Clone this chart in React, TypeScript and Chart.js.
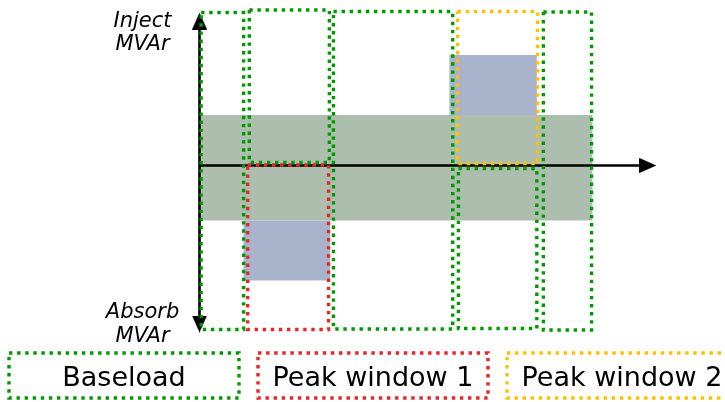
import React, { useEffect, useRef } from "react";
import { Chart, registerables } from "chart.js";

Chart.register(...registerables);

// ---- data (hours of day on x, MVAr on y) ----
// each window: [startHour, endHour, topMVAr, bottomMVAr]
const baseloadWindows: number[][] = [
  [0.1, 2.7, 15.3, -16.4],
  [3.05, 7.95, 15.55, 0.3],
  [8.2, 15.5, 15.4, -16.35],
  [15.85, 20.65, -0.3, -16.3],
  [21.05, 24.0, 15.35, -16.45],
];
const peakWindow1: number[][] = [[2.95, 7.9, 0.05, -16.4]];
const peakWindow2: number[][] = [[15.8, 20.7, 15.4, 0.2]];
const baseloadBand: number[] = [0, 24.05, 5.05, -5.5];
const peakBlocks: number[][] = [
  [2.7, 8.0, -5.5, -11.5],
  [15.3, 20.65, 11.05, 5.05],
];
const hourAxisEnd = 27.45;
const injectEnd = 14.45;
const absorbEnd = -15.85;
const legendLabels = ["Baseload", "Peak window 1", "Peak window 2"];
const injectLabel = ["Inject", "MVAr"];
const absorbLabel = ["Absorb", "MVAr"];

const GREEN = "#009A00";
const RED = "#E8262B";
const YELLOW = "#FFC000";
const BAND = "#ADBEAF";
const BLUE = "#A9B4CC";
const legendColors = [GREEN, RED, YELLOW];
const DASH = [3.4, 4.7];

const rect = (r: number[]) => [
  { x: r[0], y: r[2] },
  { x: r[1], y: r[2] },
  { x: r[1], y: r[3] },
  { x: r[0], y: r[3] },
  { x: r[0], y: r[2] },
];

function makeArrow(): HTMLCanvasElement {
  const c = document.createElement("canvas");
  c.width = 15;
  c.height = 17;
  const g = c.getContext("2d")!;
  g.fillStyle = "#000";
  g.beginPath();
  g.moveTo(7.5, 0);
  g.lineTo(15, 17);
  g.lineTo(0, 17);
  g.closePath();
  g.fill();
  return c;
}

const labelsPlugin = {
  id: "diagramLabels",
  afterDraw(chart: any) {
    const ctx = chart.ctx as CanvasRenderingContext2D;
    const xs = chart.scales.x;
    const ys = chart.scales.y;
    const ax = xs.getPixelForValue(0);
    ctx.save();
    ctx.fillStyle = "#000";
    ctx.font = 'italic 21px "DejaVu Sans"';
    ctx.textAlign = "center";
    ctx.textBaseline = "alphabetic";
    const cx = ax - 57;
    const topY = ys.getPixelForValue(injectEnd);
    injectLabel.forEach((t, i) => ctx.fillText(t, cx, topY + 5.5 + i * 23.5));
    const botY = ys.getPixelForValue(absorbEnd);
    absorbLabel.forEach((t, i) => ctx.fillText(t, cx, botY - 6 + i * 23.5));

    // legend boxes
    ctx.font = '27px "DejaVu Sans"';
    ctx.lineWidth = 3.4;
    ctx.setLineDash(DASH);
    legendLabels.forEach((t, i) => {
      const left = 9 + i * 249;
      const w = 230;
      ctx.strokeStyle = legendColors[i];
      ctx.strokeRect(left, 353, w, 45);
      ctx.fillText(t, left + w / 2, 386);
    });
    ctx.restore();
  },
};

export default function App() {
  const ref = useRef<HTMLCanvasElement>(null);
  useEffect(() => {
    const arrow = makeArrow();
    const boxDs = (r: number[], color: string, order: number) => ({
      data: rect(r),
      showLine: true,
      borderColor: color,
      borderWidth: 3.4,
      borderDash: DASH,
      borderCapStyle: "butt",
      borderJoinStyle: "miter",
      pointRadius: 0,
      fill: false,
      order,
    });
    const fillDs = (r: number[], color: string, order: number) => ({
      data: rect(r),
      showLine: true,
      borderColor: "rgba(0,0,0,0)",
      borderWidth: 0,
      backgroundColor: color,
      pointRadius: 0,
      fill: "shape",
      order,
    });
    const datasets: any[] = [
      ...peakBlocks.map((r) => fillDs(r, BLUE, 6)),
      fillDs(baseloadBand, BAND, 5),
      {
        data: [
          { x: 0, y: injectEnd },
          { x: 0, y: absorbEnd },
        ],
        showLine: true,
        borderColor: "#000",
        borderWidth: 2.6,
        pointRadius: 0,
        fill: false,
        order: 4,
      },
      {
        data: [
          { x: 0, y: 0 },
          { x: hourAxisEnd, y: 0 },
        ],
        showLine: true,
        borderColor: "#000",
        borderWidth: 2.6,
        pointRadius: 0,
        fill: false,
        order: 4,
      },
      {
        data: [
          { x: 0, y: injectEnd },
          { x: 0, y: absorbEnd },
          { x: hourAxisEnd, y: 0 },
        ],
        showLine: false,
        pointStyle: arrow,
        pointRadius: 8,
        pointRotation: [0, 180, 90],
        order: 3,
      },
      ...baseloadWindows.map((r) => boxDs(r, GREEN, 2)),
      ...peakWindow1.map((r) => boxDs(r, RED, 1)),
      ...peakWindow2.map((r) => boxDs(r, YELLOW, 0)),
    ];
    const chart = new Chart(ref.current!, {
      type: "scatter",
      data: { datasets },
      options: {
        animation: false,
        responsive: false,
        maintainAspectRatio: false,
        devicePixelRatio: 1,
        events: [],
        layout: { padding: 0, autoPadding: false },
        scales: {
          x: { type: "linear", display: false, min: -12.214, max: 32.17 },
          y: { type: "linear", display: false, min: -23.65, max: 16.55 },
        },
        plugins: {
          legend: { display: false },
          tooltip: { enabled: false },
        },
      } as any,
      plugins: [labelsPlugin],
    });
    return () => chart.destroy();
  }, []);
  return (
    <div style={{ position: "fixed", left: 0, top: 0, width: 725, height: 402, background: "#fff" }}>
      <canvas ref={ref} width={725} height={402} style={{ display: "block" }} />
    </div>
  );
}
